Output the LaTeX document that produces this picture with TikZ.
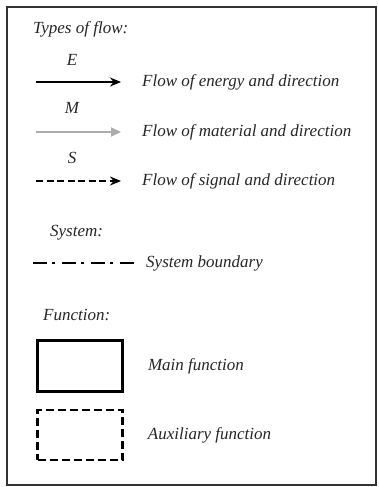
\documentclass[tikz,border=0pt]{standalone}
\usepackage{fontspec}
\setmainfont{Liberation Serif}
\usepackage{tikz}
\usetikzlibrary{arrows.meta, positioning}

\begin{document}
\begin{tikzpicture}[
  x=1pt, y=-1pt,
  node distance=6pt and 20pt,
  lbl/.style={anchor=west, inner sep=0pt, text=black!85, font=\fontsize{17}{19}\selectfont\itshape},
  sym/.style={inner sep=0pt, text=black!85, font=\fontsize{17}{19}\selectfont\itshape},
  energy/.style={-{Stealth[length=11pt, width=9pt]}, line width=2.4pt},
  material/.style={-{Triangle[length=10pt, width=9pt]}, line width=2.2pt, gray!65},
  signal/.style={-{Stealth[length=11pt, width=9pt]}, line width=2pt, dash pattern=on 7pt off 3.5pt},
  boundary/.style={line width=2.4pt, dash pattern=on 14pt off 5pt on 3pt off 7pt},
  mainfn/.style={draw, line width=2.6pt, minimum width=85pt, minimum height=51pt},
  auxfn/.style={draw, line width=2.4pt, dash pattern=on 8pt off 4pt, minimum width=85pt, minimum height=50pt}
]
\useasboundingbox (0,0) rectangle (378,487);
\draw[line width=1.2pt, black!80] (7,7) rectangle (376,485);

% flows
\node[lbl] (types) at (33,29) {Types of flow:};

\coordinate (e1) at (36,82); \coordinate (e2) at (121,82);
\node[sym] (E) at (72,60) {E};
\draw[energy] (e1) -- (e2);
\node[lbl] (etxt) at (142,82) {Flow of energy and direction};

\coordinate (m1) at (36,132); \coordinate (m2) at (121,132);
\node[sym] (M) at (72,108) {M};
\draw[material] (m1) -- (m2);
\node[lbl] (mtxt) at (142,132) {Flow of material and direction};

\coordinate (s1) at (36,181); \coordinate (s2) at (121,181);
\node[sym] (S) at (72,158) {S};
\draw[signal] (s1) -- (s2);
\node[lbl] (stxt) at (142,181) {Flow of signal and direction};

% system
\node[lbl] (system) at (50,233) {System:};
\coordinate (b1) at (33,263); \coordinate (b2) at (134,263);
\draw[boundary] (b1) -- (b2);
\node[lbl] (btxt) at (146,263) {System boundary};

% function
\node[lbl] (function) at (43,315) {Function:};
\node[mainfn] (main) at (80,366) {};
\node[lbl, right=24pt of main] (maintxt) {Main function};
\node[auxfn] (aux) at (80,435) {};
\node[lbl, right=24pt of aux] (auxtxt) {Auxiliary function};
\end{tikzpicture}
\end{document}
